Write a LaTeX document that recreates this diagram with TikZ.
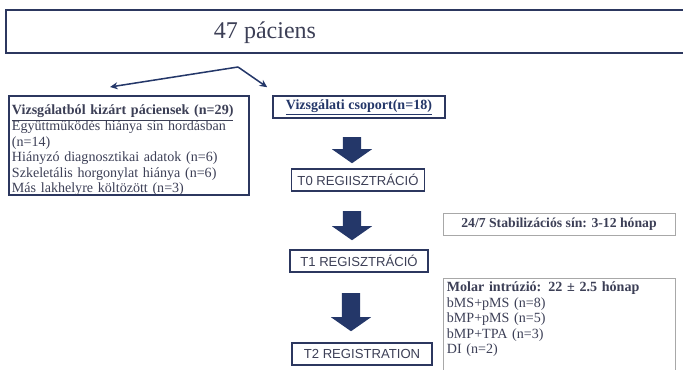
\documentclass[tikz,border=0pt]{standalone}
\usepackage{fontspec}
\setmainfont{Liberation Serif}
\setsansfont{Liberation Sans}
\usepackage{tikz}
\usetikzlibrary{shapes.arrows,arrows.meta,positioning,calc}
\definecolor{DeepNavy}{HTML}{243769}
\definecolor{FrameNavy}{HTML}{2C375F}
\definecolor{InkGray}{HTML}{3C3F56}
\definecolor{FrameGray}{HTML}{A8A8A8}

\begin{document}
\begin{tikzpicture}[x=0.03cm, y=-0.03cm,
    title/.style={font=\fontsize{20.5}{24}\selectfont, text=InkGray, inner sep=0pt},
    listbox/.style={draw=FrameNavy, line width=1.7pt, align=left, inner xsep=0.09cm, inner ysep=0pt, font=\fontsize{12}{13.3}\selectfont, text=InkGray},
    groupbox/.style={draw=FrameNavy, line width=1.3pt, minimum width=5.16cm, minimum height=0.66cm, inner sep=0pt, font=\bfseries\fontsize{12}{14}\selectfont, text=DeepNavy},
    stagebox/.style={draw=FrameNavy, line width=1pt, minimum height=0.66cm, inner sep=0pt, font=\sffamily\fontsize{11.2}{13}\selectfont, text=InkGray},
    notebox/.style={draw=FrameGray, line width=0.7pt, inner sep=0pt, font=\fontsize{12}{13}\selectfont, text=InkGray},
    blockarr/.style={single arrow, fill=DeepNavy, draw=none, shape border rotate=270, single arrow tip angle=110, inner sep=0.27cm, minimum width=1.2cm, single arrow head extend=0.33cm},
    arr/.style={-{Stealth[length=6.5pt, width=6pt]}, draw=DeepNavy, line width=1.3pt}
  ]
    \useasboundingbox (0,0) rectangle (683,369);

    % top banner, runs off the right edge
    \node[title] (total) at (265,33) {47 páciens};
    \draw[FrameNavy, line width=1.6pt] (686,10) -- (6,10) -- (6,53) -- (686,53);

    % excluded / included split
    \node[listbox, anchor=north west, text width=7.02cm, text height=0.57cm, text depth=2.4cm] (excl) at (8,95)
      {\textbf{\underline{Vizsgálatból kizárt páciensek (n=29)}}\\Együttműködés hiánya sín hordásban\\(n=14)\\Hiányzó diagnosztikai adatok (n=6)\\Szkeletális horgonylat hiánya (n=6)\\Más lakhelyre költözött (n=3)};
    \node[groupbox] (group) at (359,107) {\underline{Vizsgálati csoport(n=18)}};

    \coordinate (split) at (238,67);
    \draw[arr] (split) -- ($(excl.north)+(-19,-8)$);
    \draw[arr] (split) -- ($(group.north west)+(-5,-8)$);

    % timeline
    \node[stagebox, minimum width=3.99cm] (t0) at (358,180) {T0 REGIISZTRÁCIÓ};
    \node[stagebox, minimum width=4.14cm] (t1) at (359,261) {T1 REGISZTRÁCIÓ};
    \node[stagebox, minimum width=4.2cm] (t2) at (362,354) {T2 REGISTRATION};

    \node[blockarr, minimum height=0.78cm] (a0) at (352,147) {};
    \node[blockarr, minimum height=0.87cm] (a1) at (352,222.5) {};
    \node[blockarr, minimum height=1.14cm] (a2) at (351,309) {};

    % side notes
    \node[notebox, minimum width=6.96cm, minimum height=0.66cm, font=\bfseries\fontsize{11.7}{13}\selectfont] (splint) at (559,224) {24/7 Stabilizációs sín: 3-12 hónap};
    \node[notebox, anchor=north west, align=left, text width=6.75cm, inner xsep=0.105cm, text height=0.4cm, text depth=3cm, font=\fontsize{12}{13.2}\selectfont] (molar) at (443,278)
      {\textbf{Molar intrúzió: 22 ± 2.5 hónap}\\bMS+pMS (n=8)\\bMP+pMS (n=5)\\bMP+TPA (n=3)\\DI (n=2)};
  \end{tikzpicture}
\end{document}
